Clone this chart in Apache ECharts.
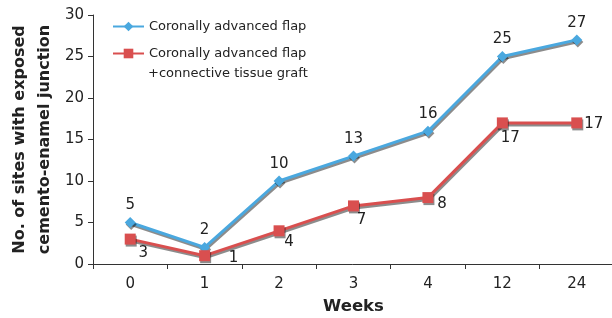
<!DOCTYPE html>
<html><head><meta charset="utf-8">
<script src="https://cdn.jsdelivr.net/npm/echarts@6/dist/echarts.min.js"></script>
<style>html,body{margin:0;padding:0;background:#fff}#c{width:612px;height:318px}</style>
</head><body><div id="c"></div>
<script>
var categories = ['0','1','2','3','4','12','24'];
var cafValues = [5, 2, 10, 13, 16, 25, 27];
var cafCtgValues = [3, 1, 4, 7, 8, 17, 17];
// label offsets for red series (dx, dy)
var redLabelOffsets = [[13,14],[29,2],[10,11],[8,14],[14,7],[8,15],[17,1]];

var FONT = 'DejaVu Sans';
var chart = echarts.init(document.getElementById('c'));
var redData = cafCtgValues.map(function(v,i){
  return {value:v, label:{offset:redLabelOffsets[i]}};
});
chart.setOption({
  animation:false,
  textStyle:{fontFamily:FONT},
  grid:{left:93, width:521, top:15, bottom:54, outerBoundsMode:'none', containLabel:false},
  legend:{
    orient:'vertical', left:107, top:15, itemWidth:31, itemHeight:12, itemGap:14,
    textStyle:{fontFamily:FONT, fontSize:13, color:'#222'},
    data:['Coronally advanced flap','Coronally advanced flap +connective tissue graft'],
    formatter:function(n){ return n.split(' +')[0]; }
  },
  graphic:[{type:'text', left:148, top:67, style:{text:'+connective tissue graft', font:'13px "DejaVu Sans"', fill:'#222'}}],
  xAxis:{
    type:'category', data:categories, boundaryGap:true,
    name:'Weeks', nameLocation:'middle', nameGap:34, nameMoveOverlap:false,
    nameTextStyle:{fontFamily:FONT, fontSize:16.5, fontWeight:'bold', color:'#222'},
    axisLine:{lineStyle:{color:'#333', width:1}},
    axisTick:{show:true, length:5, inside:false, lineStyle:{color:'#333'}},
    axisLabel:{fontFamily:FONT, fontSize:15, color:'#222', margin:13}
  },
  yAxis:{
    type:'value', min:0, max:30, interval:5,
    name:'No. of sites with exposed\ncemento-enamel junction', nameLocation:'middle', nameGap:36, nameMoveOverlap:false,
    nameTextStyle:{fontFamily:FONT, fontSize:16, fontWeight:'bold', color:'#222', lineHeight:25},
    axisLine:{show:true, lineStyle:{color:'#333', width:1}},
    axisTick:{show:true, length:5, lineStyle:{color:'#333'}},
    axisLabel:{fontFamily:FONT, fontSize:15, color:'#222', margin:9},
    splitLine:{show:false}
  },
  series:[
    {name:'Coronally advanced flap', type:'line', data:cafValues,
     symbol:'diamond', symbolSize:11,
     itemStyle:{color:'#4aa8df', shadowColor:'rgba(0,0,0,0.45)', shadowOffsetX:1, shadowOffsetY:2},
     lineStyle:{color:'#4aa8df', width:3, shadowColor:'rgba(0,0,0,0.45)', shadowOffsetX:1, shadowOffsetY:2},
     label:{show:true, position:'top', distance:4, fontFamily:FONT, fontSize:15, color:'#222'}
    },
    {name:'Coronally advanced flap +connective tissue graft', type:'line', data:redData,
     symbol:'rect', symbolSize:11,
     itemStyle:{color:'#d94f4f', shadowColor:'rgba(0,0,0,0.45)', shadowOffsetX:1, shadowOffsetY:2},
     lineStyle:{color:'#d94f4f', width:3, shadowColor:'rgba(0,0,0,0.45)', shadowOffsetX:1, shadowOffsetY:2},
     label:{show:true, position:'inside', fontFamily:FONT, fontSize:15, color:'#222'}
    }
  ]
});
</script></body></html>
